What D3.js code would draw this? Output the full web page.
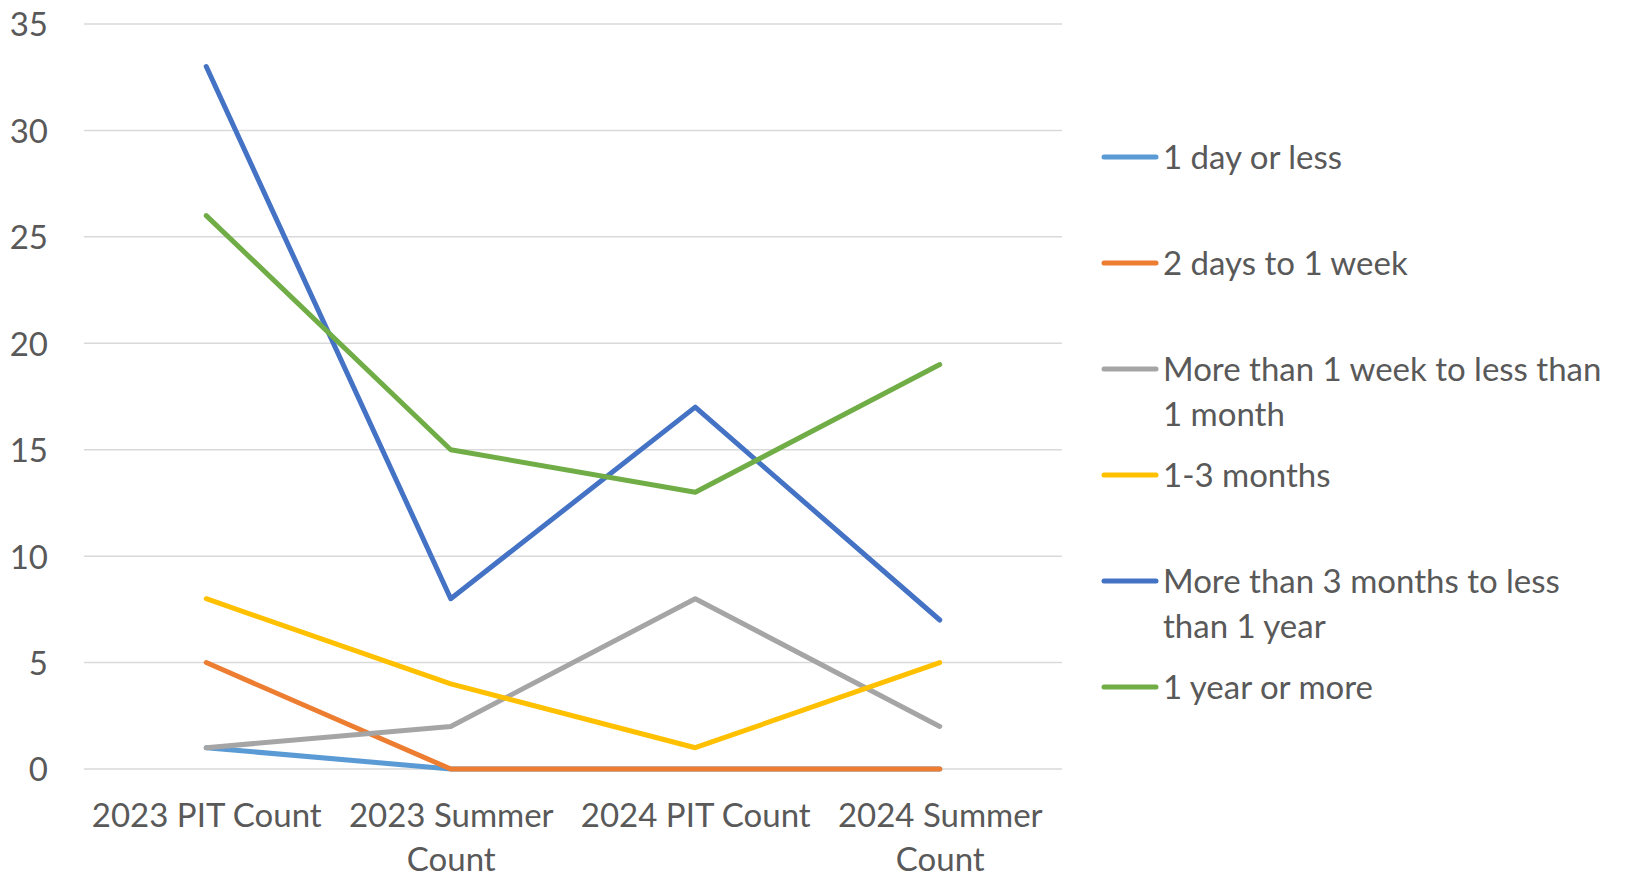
<!DOCTYPE html>
<html>
<head>
<meta charset="utf-8">
<script src="https://cdn.jsdelivr.net/npm/d3@7"></script>
<style>
body{margin:0;background:#fff;}
text{font-family:Lato,"Open Sans",sans-serif;fill:#595959;}
</style>
</head>
<body>
<script>
var categories = [["2023 PIT Count"], ["2023 Summer", "Count"], ["2024 PIT Count"], ["2024 Summer", "Count"]];
var seriesNames = ["1 day or less", "2 days to 1 week", "More than 1 week to less than 1 month", "1-3 months", "More than 3 months to less than 1 year", "1 year or more"];
var seriesColors = ["#5b9bd5", "#ed7d31", "#a5a5a5", "#ffc000", "#4472c4", "#70ad47"];
var oneDayOrLess = [1, 0, 0, 0];
var twoDaysToWeek = [5, 0, 0, 0];
var weekToMonth = [1, 2, 8, 2];
var oneToThreeMonths = [8, 4, 1, 5];
var threeMonthsToYear = [33, 8, 17, 7];
var yearOrMore = [26, 15, 13, 19];
var yTicks = [0, 5, 10, 15, 20, 25, 30, 35];

var allSeries = [oneDayOrLess, twoDaysToWeek, weekToMonth, oneToThreeMonths, threeMonthsToYear, yearOrMore];

var width = 1638,
    height = 879,
    fontSize = 33;

var svg = d3.select("body").append("svg")
    .attr("width", width)
    .attr("height", height);

var catKeys = categories.map(function(c){return c.join(" ");});

var x = d3.scalePoint().domain(catKeys).range([84, 1062]).padding(0.5);
var y = d3.scaleLinear().domain([0, 35]).range([769, 24]);

// grid lines
svg.append("g")
    .selectAll("line")
    .data(yTicks).enter()
    .append("line")
    .attr("x1", 84)
    .attr("x2", 1062)
    .attr("y1", function(d){return y(d);})
    .attr("y2", function(d){return y(d);})
    .attr("stroke", "#d9d9d9")
    .attr("stroke-width", 1.5);

// y axis labels
var yAxis = svg.append("g")
    .attr("transform", "translate(48,0)")
    .call(d3.axisLeft(y).tickValues(yTicks).tickSize(0).tickPadding(0));
yAxis.select(".domain").remove();
yAxis.selectAll("text")
    .attr("font-size", fontSize)
    .attr("font-family", null)
    .attr("fill", null)
    .attr("dy", "0.36em");

// x axis labels
var xAxis = svg.append("g")
    .attr("transform", "translate(0,769)")
    .call(d3.axisBottom(x).tickSize(0).tickFormat(""));
xAxis.select(".domain").remove();
xAxis.selectAll(".tick").each(function(d, i){
    var t = d3.select(this).append("text")
        .attr("text-anchor", "middle")
        .attr("font-size", fontSize)
        .attr("y", 58);
    categories[i].forEach(function(line, j){
        t.append("tspan").attr("x", 0).attr("dy", j == 0 ? 0 : 44).text(line);
    });
});

// lines
var line = d3.line()
    .x(function(d, i){return x(catKeys[i]);})
    .y(function(d){return y(d);});

svg.append("g")
    .selectAll("path")
    .data(allSeries).enter()
    .append("path")
    .attr("d", function(d){return line(d);})
    .attr("fill", "none")
    .attr("stroke", function(d, i){return seriesColors[i];})
    .attr("stroke-width", 5)
    .attr("stroke-linecap", "round")
    .attr("stroke-linejoin", "round");

// legend
var legend = svg.append("g")
    .selectAll("g")
    .data(seriesNames).enter()
    .append("g")
    .attr("transform", function(d, i){return "translate(1104," + (157 + i*106) + ")";});

legend.append("line")
    .attr("x1", 0)
    .attr("x2", 52)
    .attr("stroke", function(d, i){return seriesColors[i];})
    .attr("stroke-width", 5)
    .attr("stroke-linecap", "round");

legend.append("text")
    .attr("font-size", fontSize)
    .each(function(d){
        var t = d3.select(this);
        var words = d.split(" ");
        var lineWords = [];
        var tspan = t.append("tspan").attr("x", 59).attr("dy", "0.36em");
        words.forEach(function(w){
            lineWords.push(w);
            tspan.text(lineWords.join(" "));
            if(tspan.node().getComputedTextLength() > 455 && lineWords.length > 1){
                lineWords.pop();
                tspan.text(lineWords.join(" "));
                lineWords = [w];
                tspan = t.append("tspan").attr("x", 59).attr("dy", 45).text(w);
            }
        });
    });
</script>
</body>
</html>
